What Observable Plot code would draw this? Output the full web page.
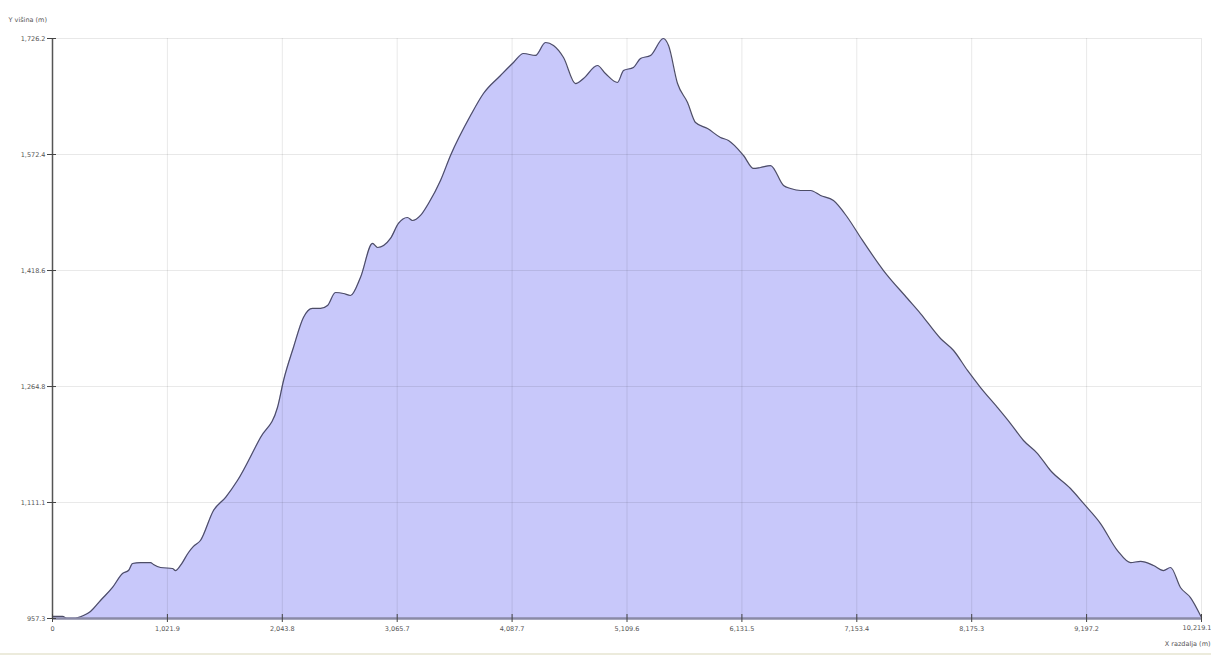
<!DOCTYPE html>
<html>
<head>
<meta charset="utf-8">
<script src="https://cdn.jsdelivr.net/npm/d3@7"></script>
<script src="https://cdn.jsdelivr.net/npm/@observablehq/plot@0.6"></script>
<style>
  html, body { margin: 0; padding: 0; background: #fff; }
  #chart svg { display: block; overflow: visible; }
  #footer { height: 2px; background: #ecebdc; width: 1211px; }
</style>
</head>
<body>
<div id="chart"></div>
<div id="footer"></div>
<script>
// Distance along route (m)
const distance = [0, 89, 133, 187, 276, 338, 427, 534, 623, 676, 712, 783, 872, 898, 961, 1067, 1094, 1138, 1210, 1254, 1316, 1432, 1540, 1645, 1850, 2001, 2055, 2143, 2232, 2312, 2384, 2446, 2517, 2588, 2650, 2739, 2846, 2891, 3006, 3077, 3157, 3202, 3273, 3344, 3451, 3540, 3718, 3833, 3985, 4100, 4189, 4296, 4385, 4456, 4545, 4652, 4723, 4847, 4918, 5025, 5079, 5167, 5230, 5319, 5434, 5479, 5559, 5648, 5719, 5826, 5941, 6012, 6146, 6235, 6297, 6386, 6502, 6564, 6653, 6742, 6831, 6946, 7071, 7187, 7391, 7604, 7720, 7898, 8014, 8138, 8254, 8405, 8521, 8636, 8761, 8876, 9054, 9170, 9321, 9472, 9588, 9677, 9792, 9881, 9944, 10032, 10121, 10219.1];
// Elevation (m)
const elevation = [960.0, 960.0, 957.5, 957.5, 961.3, 966.6, 981.2, 998.4, 1017.0, 1020.9, 1030.2, 1031.5, 1031.5, 1028.9, 1024.9, 1023.6, 1020.9, 1027.6, 1044.8, 1052.8, 1060.7, 1100.5, 1118.0, 1140.2, 1197.3, 1237.0, 1272.8, 1316.6, 1356.3, 1368.3, 1368.3, 1372.2, 1389.5, 1388.2, 1385.5, 1409.4, 1454.5, 1449.1, 1461.1, 1481.0, 1488.9, 1484.9, 1491.6, 1507.5, 1538.0, 1571.1, 1624.1, 1653.3, 1677.2, 1694.4, 1706.3, 1703.7, 1720.9, 1716.9, 1701.0, 1666.5, 1673.2, 1690.4, 1679.8, 1667.9, 1683.8, 1687.8, 1699.7, 1703.7, 1726.2, 1716.9, 1666.5, 1641.4, 1614.8, 1606.9, 1595.0, 1591.0, 1571.1, 1553.9, 1555.2, 1557.8, 1531.3, 1527.4, 1524.7, 1524.7, 1518.1, 1511.4, 1488.9, 1462.4, 1418.6, 1381.5, 1361.6, 1328.5, 1312.6, 1286.1, 1263.5, 1237.0, 1215.8, 1193.3, 1176.0, 1153.5, 1129.6, 1109.8, 1083.2, 1047.4, 1031.5, 1032.9, 1027.6, 1020.9, 1024.9, 998.4, 985.1, 958.6];

const xTicks = [0, 1021.9, 2043.8, 3065.7, 4087.7, 5109.6, 6131.5, 7153.4, 8175.3, 9197.2, 10219.1];
const xTickLabels = ["0", "1,021.9", "2,043.8", "3,065.7", "4,087.7", "5,109.6", "6,131.5", "7,153.4", "8,175.3", "9,197.2", "10,219.1"];
const yTicks = [957.3, 1111.1, 1264.8, 1418.6, 1572.4, 1726.2];
const yTickLabels = ["957.3", "1,111.1", "1,264.8", "1,418.6", "1,572.4", "1,726.2"];
const yLabel = "Y višina (m)";
const xLabel = "X razdalja (m)";

const data = distance.map((d, i) => ({d, e: elevation[i]}));
const lastTick = xTicks[xTicks.length - 1];
const xFmt = v => v === lastTick ? "" : xTickLabels[xTicks.indexOf(v)];
const yFmt = v => yTickLabels[yTicks.indexOf(v)];

const chart = Plot.plot({
  width: 1211,
  height: 653,
  marginLeft: 52,
  marginRight: 10,
  marginTop: 38,
  marginBottom: 35,
  style: {fontFamily: "DejaVu Sans", fontSize: "6.5px", color: "#555", background: "#fff"},
  x: {domain: [0, 10219.1]},
  y: {domain: [957.3, 1726.2]},
  marks: [
    Plot.areaY(data, {x: "d", y1: 957.3, y2: "e", fill: "#c8c8fa", curve: "monotone-x"}),
    Plot.gridX(xTicks, {stroke: "#000", strokeOpacity: 0.09}),
    Plot.gridY(yTicks, {stroke: "#000", strokeOpacity: 0.09}),
    Plot.lineY(data, {x: "d", y: "e", stroke: "#4d4d66", strokeWidth: 1.2, curve: "monotone-x"}),
    Plot.ruleY([957.3], {stroke: "#8a8aa6", strokeWidth: 2.5}),
    Plot.ruleX([0], {stroke: "#555", strokeWidth: 1.5}),
    Plot.axisX({ticks: xTicks, tickFormat: xFmt, tickSize: 8, dy: -4, tickPadding: 4, stroke: "#444", label: null}),
    Plot.text([lastTick], {x: d => d, frameAnchor: "bottom", text: () => xTickLabels[xTickLabels.length - 1], dx: 10, dy: 11, textAnchor: "end", fill: "#555", fontSize: 6.5}),
    Plot.axisY({ticks: yTicks, tickFormat: yFmt, tickSize: 9, dx: 4, tickPadding: 2, stroke: "#444", label: null}),
    Plot.text([yLabel], {frameAnchor: "top-left", text: d => d, dx: -44, dy: -21, textAnchor: "start", fill: "#555", fontSize: 6.5}),
    Plot.text([xLabel], {frameAnchor: "bottom-right", text: d => d, dx: 9, dy: 27, textAnchor: "end", fill: "#555", fontSize: 6.5})
  ]
});
document.getElementById("chart").append(chart);
</script>
</body>
</html>
